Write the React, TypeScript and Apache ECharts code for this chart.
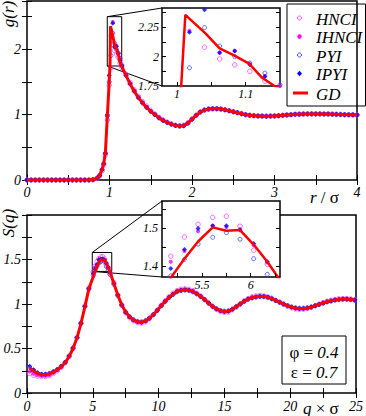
import React, { useEffect, useRef } from "react";
import * as echarts from "echarts";

// ---------- g(r) panel data ----------
const rTop = [0, 0.05, 0.1, 0.15, 0.2, 0.25, 0.3, 0.35, 0.4, 0.45, 0.5, 0.55, 0.6, 0.65, 0.7, 0.75, 0.8, 0.85,
  0.88, 0.91, 0.93, 0.95, 0.974, 0.996,
  1.018, 1.04, 1.062, 1.084, 1.106, 1.128, 1.15,
  1.2, 1.25, 1.3, 1.35, 1.4, 1.45, 1.5, 1.55, 1.6, 1.65,
  1.7, 1.75, 1.8, 1.85, 1.9, 1.95, 2.0, 2.05, 2.1, 2.15,
  2.2, 2.25, 2.3, 2.35, 2.4, 2.45, 2.5, 2.55, 2.6, 2.65,
  2.7, 2.75, 2.8, 2.85, 2.9, 2.95, 3.0, 3.05, 3.1, 3.15,
  3.2, 3.25, 3.3, 3.35, 3.4, 3.45, 3.5, 3.55, 3.6, 3.65,
  3.7, 3.75, 3.8, 3.85, 3.9, 3.95, 4.0];

const gHNCI = [0, 0, 0, 0, 0, 0, 0, 0, 0, 0, 0, 0, 0, 0, 0, 0, 0.004, 0.025,
  0.06, 0.14, 0.23, 0.38, 0.92, 1.45,
  1.72, 2.08, 1.98, 1.93, 1.875, 1.79, 1.72,
  1.62, 1.49, 1.38, 1.28, 1.2, 1.13, 1.065, 1.01, 0.96, 0.92,
  0.885, 0.858, 0.838, 0.83, 0.838, 0.875, 0.935, 0.99, 1.04, 1.07,
  1.085, 1.09, 1.09, 1.085, 1.075, 1.06, 1.045, 1.03, 1.015, 1.0,
  0.99, 0.985, 0.98, 0.978, 0.977, 0.978, 0.98, 0.985, 0.99, 0.995,
  1.0, 1.005, 1.008, 1.01, 1.012, 1.012, 1.012, 1.012, 1.01, 1.01,
  1.008, 1.005, 1.003, 1.0, 0.998, 0.997, 0.996];

const gIHNCI = [0, 0, 0, 0, 0, 0, 0, 0, 0, 0, 0, 0, 0, 0, 0, 0, 0.005, 0.03,
  0.07, 0.16, 0.25, 0.41, 1.0, 1.6,
  2.22, 2.42, 2.035, 2.05, 1.935, 1.835, 1.75,
  1.61, 1.48, 1.37, 1.27, 1.19, 1.12, 1.055, 1.005, 0.955, 0.915,
  0.882, 0.856, 0.836, 0.827, 0.833, 0.872, 0.932, 0.99, 1.04, 1.07,
  1.085, 1.09, 1.09, 1.085, 1.075, 1.06, 1.045, 1.03, 1.015, 1.0,
  0.99, 0.985, 0.98, 0.978, 0.977, 0.978, 0.98, 0.985, 0.99, 0.995,
  1.0, 1.005, 1.008, 1.01, 1.012, 1.012, 1.012, 1.012, 1.01, 1.01,
  1.008, 1.005, 1.003, 1.0, 0.998, 0.997, 0.996];

const gPYI = [0, 0, 0, 0, 0, 0, 0, 0, 0, 0, 0, 0, 0, 0, 0, 0, 0.005, 0.03,
  0.07, 0.16, 0.25, 0.41, 0.98, 1.5,
  1.905, 2.247, 2.09, 2.0, 1.945, 1.86, 1.76,
  1.6, 1.47, 1.36, 1.26, 1.18, 1.11, 1.05, 1.0, 0.95, 0.91,
  0.88, 0.855, 0.835, 0.825, 0.83, 0.87, 0.93, 0.99, 1.04, 1.07,
  1.085, 1.09, 1.09, 1.085, 1.075, 1.06, 1.045, 1.03, 1.015, 1.0,
  0.99, 0.985, 0.98, 0.978, 0.977, 0.978, 0.98, 0.985, 0.99, 0.995,
  1.0, 1.005, 1.008, 1.01, 1.012, 1.012, 1.012, 1.012, 1.01, 1.01,
  1.008, 1.005, 1.003, 1.0, 0.998, 0.997, 0.996];

const gIPYI = [0, 0, 0, 0, 0, 0, 0, 0, 0, 0, 0, 0, 0, 0, 0, 0, 0.005, 0.03,
  0.07, 0.16, 0.25, 0.41, 1.0, 1.6,
  2.207, 2.4, 2.034, 2.048, 1.934, 1.83, 1.745,
  1.6, 1.47, 1.36, 1.26, 1.18, 1.11, 1.05, 1.0, 0.95, 0.91,
  0.88, 0.855, 0.835, 0.825, 0.83, 0.87, 0.93, 0.99, 1.04, 1.07,
  1.085, 1.09, 1.09, 1.085, 1.075, 1.06, 1.045, 1.03, 1.015, 1.0,
  0.99, 0.985, 0.98, 0.978, 0.977, 0.978, 0.98, 0.985, 0.99, 0.995,
  1.0, 1.005, 1.008, 1.01, 1.012, 1.012, 1.012, 1.012, 1.01, 1.01,
  1.008, 1.005, 1.003, 1.0, 0.998, 0.997, 0.996];

const rGD = [0, 0.5, 0.75, 0.8, 0.85, 0.88, 0.91, 0.93, 0.95, 0.975, 0.99, 1.006, 1.012,
  1.041, 1.062, 1.083, 1.105, 1.124, 1.142, 1.17,
  1.2, 1.25, 1.3, 1.35, 1.4, 1.45, 1.5, 1.55, 1.6, 1.65,
  1.7, 1.75, 1.8, 1.85, 1.9, 1.95, 2.0, 2.05, 2.1, 2.15,
  2.2, 2.25, 2.3, 2.35, 2.4, 2.45, 2.5, 2.55, 2.6, 2.65,
  2.7, 2.75, 2.8, 2.85, 2.9, 2.95, 3.0, 3.05, 3.1, 3.15,
  3.2, 3.25, 3.3, 3.35, 3.4, 3.45, 3.5, 3.55, 3.6, 3.65,
  3.7, 3.75, 3.8, 3.85, 3.9, 3.95, 4.0];

const gGD = [0, 0, 0.002, 0.006, 0.03, 0.07, 0.16, 0.25, 0.42, 1.0, 1.35, 1.75, 2.355,
  2.2, 2.07, 2.01, 1.94, 1.82, 1.75, 1.68,
  1.6, 1.47, 1.36, 1.26, 1.18, 1.11, 1.05, 1.0, 0.95, 0.91,
  0.88, 0.855, 0.835, 0.825, 0.83, 0.87, 0.93, 0.99, 1.04, 1.07,
  1.085, 1.09, 1.09, 1.085, 1.075, 1.06, 1.045, 1.03, 1.015, 1.0,
  0.99, 0.985, 0.98, 0.978, 0.977, 0.978, 0.98, 0.985, 0.99, 0.995,
  1.0, 1.005, 1.008, 1.01, 1.012, 1.012, 1.012, 1.012, 1.01, 1.01,
  1.008, 1.005, 1.003, 1.0, 0.998, 0.997, 0.996];

// ---------- S(q) panel data ----------
const qGrid = [0.2, 0.5, 0.8, 1.1, 1.4, 1.7, 2.0, 2.3, 2.6, 2.9, 3.2, 3.5, 3.8, 4.1, 4.4, 4.7,
  5.04, 5.18, 5.32, 5.46, 5.61, 5.75, 5.89, 6.03, 6.17, 6.31,
  6.6, 6.9, 7.2, 7.5, 7.8, 8.1, 8.4, 8.7, 9.0, 9.3,
  9.6, 9.9, 10.2, 10.5, 10.8, 11.1, 11.4, 11.7, 12.0, 12.3,
  12.6, 12.9, 13.2, 13.5, 13.8, 14.1, 14.4, 14.7, 15.0, 15.3,
  15.6, 15.9, 16.2, 16.5, 16.8, 17.1, 17.4, 17.7, 18.0, 18.3,
  18.6, 18.9, 19.2, 19.5, 19.8, 20.1, 20.4, 20.7, 21.0, 21.3,
  21.6, 21.9, 22.2, 22.5, 22.8, 23.1, 23.4, 23.7, 24.0, 24.3,
  24.6, 24.9];

const sHNCI = [0.22, 0.2, 0.19, 0.185, 0.185, 0.195, 0.22, 0.25, 0.29, 0.34, 0.41, 0.5, 0.62, 0.78, 0.98, 1.18,
  1.36, 1.4265, 1.477, 1.51, 1.528, 1.531, 1.505, 1.442, 1.405, 1.34,
  1.24, 1.1, 0.985, 0.9, 0.845, 0.81, 0.79, 0.785, 0.8, 0.835,
  0.88, 0.93, 0.985, 1.035, 1.08, 1.12, 1.15, 1.165, 1.17, 1.165,
  1.15, 1.12, 1.09, 1.05, 1.01, 0.97, 0.94, 0.915, 0.905, 0.91,
  0.935, 0.965, 1.0, 1.035, 1.06, 1.08, 1.09, 1.095, 1.09, 1.08,
  1.065, 1.04, 1.02, 0.995, 0.975, 0.958, 0.945, 0.94, 0.942, 0.95,
  0.962, 0.98, 0.998, 1.015, 1.03, 1.042, 1.05, 1.058, 1.06, 1.06,
  1.055, 1.048];

const sIHNCI = [0.24, 0.215, 0.2, 0.19, 0.19, 0.2, 0.225, 0.255, 0.29, 0.34, 0.41, 0.5, 0.62, 0.78, 0.975, 1.175,
  1.35, 1.412, 1.44, 1.492, 1.506, 1.503, 1.497, 1.455, 1.41, 1.355,
  1.235, 1.1, 0.99, 0.905, 0.85, 0.815, 0.795, 0.79, 0.805, 0.838,
  0.88, 0.93, 0.982, 1.032, 1.078, 1.115, 1.145, 1.16, 1.165, 1.16,
  1.145, 1.118, 1.088, 1.05, 1.01, 0.972, 0.942, 0.92, 0.91, 0.915,
  0.938, 0.968, 1.0, 1.032, 1.058, 1.075, 1.085, 1.09, 1.088, 1.078,
  1.062, 1.04, 1.02, 0.998, 0.978, 0.962, 0.95, 0.945, 0.946, 0.952,
  0.964, 0.98, 0.997, 1.012, 1.028, 1.038, 1.048, 1.054, 1.058, 1.058,
  1.052, 1.046];

const sPYI = [0.29, 0.255, 0.225, 0.21, 0.21, 0.22, 0.24, 0.265, 0.3, 0.345, 0.415, 0.505, 0.625, 0.785, 0.97, 1.165,
  1.32, 1.375, 1.418, 1.458, 1.476, 1.488, 1.471, 1.42, 1.379, 1.33,
  1.22, 1.095, 0.99, 0.912, 0.858, 0.824, 0.805, 0.8, 0.814, 0.843,
  0.882, 0.93, 0.98, 1.028, 1.072, 1.106, 1.135, 1.15, 1.155, 1.15,
  1.136, 1.112, 1.082, 1.048, 1.01, 0.977, 0.948, 0.928, 0.92, 0.924,
  0.943, 0.972, 1.0, 1.028, 1.052, 1.067, 1.077, 1.082, 1.082, 1.072,
  1.058, 1.04, 1.02, 1.0, 0.982, 0.967, 0.957, 0.953, 0.953, 0.958,
  0.967, 0.981, 0.995, 1.009, 1.023, 1.033, 1.043, 1.048, 1.052, 1.052,
  1.048, 1.043];

const sIPYI = [0.3, 0.26, 0.228, 0.212, 0.21, 0.22, 0.24, 0.265, 0.3, 0.345, 0.415, 0.505, 0.625, 0.785, 0.975, 1.175,
  1.34, 1.394, 1.444, 1.499, 1.506, 1.506, 1.495, 1.46, 1.412, 1.355,
  1.23, 1.1, 0.99, 0.908, 0.853, 0.82, 0.8, 0.795, 0.81, 0.84,
  0.88, 0.93, 0.98, 1.03, 1.075, 1.11, 1.14, 1.155, 1.16, 1.155,
  1.14, 1.115, 1.085, 1.05, 1.01, 0.975, 0.945, 0.925, 0.915, 0.92,
  0.94, 0.97, 1.0, 1.03, 1.055, 1.07, 1.08, 1.085, 1.085, 1.075,
  1.06, 1.04, 1.02, 1.0, 0.98, 0.965, 0.955, 0.95, 0.95, 0.955,
  0.965, 0.98, 0.995, 1.01, 1.025, 1.035, 1.045, 1.05, 1.055, 1.055,
  1.05, 1.045];

const sGD = [0.28, 0.25, 0.22, 0.205, 0.205, 0.215, 0.235, 0.26, 0.295, 0.34, 0.41, 0.5, 0.62, 0.78, 0.97, 1.17,
  1.31, 1.37, 1.42, 1.465, 1.502, 1.493, 1.495, 1.457, 1.412, 1.36,
  1.23, 1.1, 0.99, 0.91, 0.855, 0.82, 0.8, 0.795, 0.81, 0.84,
  0.88, 0.93, 0.98, 1.03, 1.075, 1.11, 1.14, 1.155, 1.16, 1.155,
  1.14, 1.115, 1.085, 1.05, 1.01, 0.975, 0.945, 0.925, 0.915, 0.92,
  0.94, 0.97, 1.0, 1.03, 1.055, 1.07, 1.08, 1.085, 1.085, 1.075,
  1.06, 1.04, 1.02, 1.0, 0.98, 0.965, 0.955, 0.95, 0.95, 0.955,
  0.965, 0.98, 0.995, 1.01, 1.025, 1.035, 1.045, 1.05, 1.055, 1.055,
  1.05, 1.045];

// ---------- axis ranges / ticks ----------
const topInsetX = [0.978, 1.15];
const topInsetY = [1.75, 2.414];
const topInsetXTicks = [1, 1.05, 1.1];
const topInsetXLabels = [1, 1.1];
const topInsetYTicks = [1.875, 2, 2.125, 2.25, 2.375];
const topInsetYLabels = [1.75, 2, 2.25];
const botInsetX = [5.09, 6.3];
const botInsetY = [1.372, 1.571];
const botInsetXTicks = [5.25, 5.5, 5.75, 6, 6.25];
const botInsetXLabels = [5.5, 6];
const botInsetYTicks = [1.4, 1.45, 1.5, 1.55];
const botInsetYLabels = [1.4, 1.5];
// zoom boxes drawn in main panels (data coords)
const topBox = [[0.973, 1.745], [1.148, 2.5]];
const botBox = [[4.96, 1.366], [6.44, 1.579]];

const FONT = "Liberation Serif";
const C_HNCI = "#ff44ff";
const C_IHNCI = "#ff00ff";
const C_PYI = "#3344ff";
const C_IPYI = "#0000ff";
const C_GD = "#ff0000";

const pairs = (xs: number[], ys: number[]) => xs.map((x, i) => [x, ys[i]]);

const tickLabel = (size: number, margin: number) => ({
  color: "#000",
  fontStyle: "italic",
  fontFamily: FONT,
  fontSize: size,
  margin,
});

function valAxis(extra: any) {
  return {
    type: "value",
    axisLine: { show: false },
    splitLine: { show: false },
    axisTick: { inside: true, length: 5, lineStyle: { color: "#000", width: 1 } },
    ...extra,
  };
}

function scatterSeries(name: string, xi: number, data: number[][], z: number) {
  const base: any = {
    type: "scatter",
    name,
    xAxisIndex: xi,
    yAxisIndex: xi,
    data,
    silent: true,
    z,
    clip: true,
  };
  if (name === "HNCI") {
    base.symbol = "circle";
    base.symbolSize = 4.5;
    base.itemStyle = { color: "rgba(255,255,255,0)", borderColor: C_HNCI, borderWidth: 1 };
  } else if (name === "IHNCI") {
    base.symbol = "circle";
    base.symbolSize = 4;
    base.itemStyle = { color: C_IHNCI };
  } else if (name === "PYI") {
    base.symbol = "circle";
    base.symbolSize = 4;
    base.itemStyle = { color: "rgba(255,255,255,0)", borderColor: C_PYI, borderWidth: 1 };
  } else {
    base.symbol = "diamond";
    base.symbolSize = 5;
    base.itemStyle = { color: C_IPYI };
  }
  return base;
}

function gdSeries(xi: number, data: number[][], z: number, width: number, box?: number[][]) {
  const s: any = {
    type: "line",
    name: "GD",
    xAxisIndex: xi,
    yAxisIndex: xi,
    data,
    showSymbol: false,
    symbol: "none",
    silent: true,
    clip: true,
    z,
    lineStyle: { color: C_GD, width },
  };
  if (box) {
    s.markArea = {
      silent: true,
      label: { show: false },
      itemStyle: { color: "rgba(0,0,0,0)", borderColor: "#000", borderWidth: 1 },
      data: [[{ coord: box[0] }, { coord: box[1] }]],
    };
  }
  return s;
}

export default function App() {
  const ref = useRef<HTMLDivElement>(null);

  useEffect(() => {
    document.body.style.margin = "0";
    const chart = echarts.init(ref.current!, null, { renderer: "svg" });

    const topPts = [
      ["HNCI", gHNCI], ["IHNCI", gIHNCI], ["PYI", gPYI], ["IPYI", gIPYI],
    ] as [string, number[]][];
    const botPts = [
      ["HNCI", sHNCI], ["IHNCI", sIHNCI], ["PYI", sPYI], ["IPYI", sIPYI],
    ] as [string, number[]][];

    const series: any[] = [];
    topPts.forEach(([n, v]) => series.push(scatterSeries(n, 0, pairs(rTop, v), 2)));
    series.push(gdSeries(0, pairs(rGD, gGD), 3, 3, topBox));
    topPts.forEach(([n, v]) => series.push(scatterSeries(n, 2, pairs(rTop, v), 6)));
    series.push(gdSeries(2, pairs(rGD, gGD), 7, 2.5));
    botPts.forEach(([n, v]) => series.push(scatterSeries(n, 3, pairs(qGrid, v), 2)));
    series.push(gdSeries(3, pairs(qGrid, sGD), 3, 3, botBox));
    botPts.forEach(([n, v]) => series.push(scatterSeries(n, 5, pairs(qGrid, v), 6)));
    series.push(gdSeries(5, pairs(qGrid, sGD), 7, 2.5));

    const mainGrid = { show: true, borderColor: "#000", borderWidth: 1.5, backgroundColor: "rgba(0,0,0,0)", z: 2 };
    const insetGrid = { show: true, borderColor: "#000", borderWidth: 1.5, backgroundColor: "#fff", z: 4 };

    const option: any = {
      animation: false,
      textStyle: { fontFamily: FONT, fontStyle: "italic" },
      grid: [
        { ...mainGrid, left: 27, top: 1, width: 330, height: 179 },
        { ...insetGrid, left: 162, top: 8, width: 118, height: 78 },
        { ...mainGrid, left: 27, top: 215, width: 330, height: 178 },
        { ...insetGrid, left: 162, top: 201, width: 118, height: 76 },
      ],
      xAxis: [
        valAxis({ gridIndex: 0, min: 0, max: 4, interval: 0.5, position: "bottom",
          axisLabel: { ...tickLabel(14, 5), formatter: (v: number) => (Number.isInteger(v) ? String(v) : "") } }),
        valAxis({ gridIndex: 0, min: 0, max: 4, interval: 0.5, position: "top", axisLabel: { show: false } }),
        valAxis({ gridIndex: 1, min: topInsetX[0], max: topInsetX[1], position: "bottom", z: 8,
          axisTick: { inside: true, length: 4, lineStyle: { color: "#000" }, customValues: topInsetXTicks },
          axisLabel: { ...tickLabel(12, 2), customValues: topInsetXLabels } }),
        valAxis({ gridIndex: 2, min: 0, max: 25, interval: 2.5, position: "bottom",
          axisLabel: { ...tickLabel(14, 6), formatter: (v: number) => (v % 5 === 0 ? String(v) : "") } }),
        valAxis({ gridIndex: 2, min: 0, max: 25, interval: 2.5, position: "top", axisLabel: { show: false } }),
        valAxis({ gridIndex: 3, min: botInsetX[0], max: botInsetX[1], position: "bottom", z: 8,
          axisTick: { inside: true, length: 4, lineStyle: { color: "#000" }, customValues: botInsetXTicks },
          axisLabel: { ...tickLabel(12, 2), customValues: botInsetXLabels } }),
      ],
      yAxis: [
        valAxis({ gridIndex: 0, min: 0, max: 2.74, interval: 0.5, position: "left",
          axisLabel: { ...tickLabel(14, 6), formatter: (v: number) => (Number.isInteger(v) ? String(v) : "") } }),
        valAxis({ gridIndex: 0, min: 0, max: 2.74, interval: 0.5, position: "right", axisLabel: { show: false } }),
        valAxis({ gridIndex: 1, min: topInsetY[0], max: topInsetY[1], position: "left", z: 8,
          axisTick: { inside: true, length: 4, lineStyle: { color: "#000" }, customValues: topInsetYTicks },
          axisLabel: { ...tickLabel(12, 3), customValues: topInsetYLabels } }),
        valAxis({ gridIndex: 2, min: 0, max: 2, interval: 0.25, position: "left",
          axisLabel: { ...tickLabel(14, 6), formatter: (v: number) => ((v * 2) % 1 === 0 && v !== 2 ? String(v) : "") } }),
        valAxis({ gridIndex: 2, min: 0, max: 2, interval: 0.25, position: "right", axisLabel: { show: false } }),
        valAxis({ gridIndex: 3, min: botInsetY[0], max: botInsetY[1], position: "left", z: 8,
          axisTick: { inside: true, length: 4, lineStyle: { color: "#000" }, customValues: botInsetYTicks },
          axisLabel: { ...tickLabel(12, 4), customValues: botInsetYLabels } }),
        valAxis({ gridIndex: 1, min: topInsetY[0], max: topInsetY[1], position: "right", z: 8,
          axisTick: { inside: true, length: 4, lineStyle: { color: "#000" }, customValues: topInsetYTicks },
          axisLabel: { show: false } }),
        valAxis({ gridIndex: 3, min: botInsetY[0], max: botInsetY[1], position: "right", z: 8,
          axisTick: { inside: true, length: 4, lineStyle: { color: "#000" }, customValues: botInsetYTicks },
          axisLabel: { show: false } }),
      ],
      series,
    };
    chart.setOption(option);

    // connector lines from zoom boxes to insets
    const px = (xi: number, pt: number[]) => chart.convertToPixel({ xAxisIndex: xi, yAxisIndex: xi }, pt) as number[];
    const conn = [
      [px(0, [topBox[0][0], topBox[1][1]]), px(2, [topInsetX[0], topInsetY[1]])],
      [px(0, [topBox[0][0], topBox[0][1]]), px(2, [topInsetX[0], topInsetY[0]])],
      [px(3, [botBox[0][0], botBox[1][1]]), px(5, [botInsetX[0], botInsetY[1]])],
      [px(3, [botBox[0][0], botBox[0][1]]), px(5, [botInsetX[0], botInsetY[0]])],
    ];

    const txt = (size: number, italic: boolean) => ({
      fontFamily: FONT, fontSize: size, fontStyle: italic ? "italic" : "normal", fill: "#000",
    });

    const legendItems = [
      { name: "HNCI", kind: "open", color: C_HNCI, y: 14 },
      { name: "IHNCI", kind: "fill", color: C_IHNCI, y: 32.5 },
      { name: "PYI", kind: "open", color: C_PYI, y: 51 },
      { name: "IPYI", kind: "diamond", color: C_IPYI, y: 69.5 },
      { name: "GD", kind: "line", color: C_GD, y: 89 },
    ];
    const legendChildren: any[] = [
      { type: "rect", shape: { x: 0, y: 0, width: 78.5, height: 102 },
        style: { fill: "#fff", stroke: "#000", lineWidth: 1 } },
    ];
    legendItems.forEach((it) => {
      if (it.kind === "open") {
        legendChildren.push({ type: "circle", shape: { cx: 12.5, cy: it.y, r: 2 },
          style: { fill: "rgba(0,0,0,0)", stroke: it.color, lineWidth: 1 } });
      } else if (it.kind === "fill") {
        legendChildren.push({ type: "circle", shape: { cx: 12.5, cy: it.y, r: 2.2 }, style: { fill: it.color } });
      } else if (it.kind === "diamond") {
        legendChildren.push({ type: "polygon",
          shape: { points: [[12.5, it.y - 2.8], [15, it.y], [12.5, it.y + 2.8], [10, it.y]] },
          style: { fill: it.color } });
      } else {
        legendChildren.push({ type: "line", shape: { x1: 6, y1: it.y, x2: 21, y2: it.y },
          style: { stroke: it.color, lineWidth: 3 } });
      }
      legendChildren.push({ type: "text", x: 29, y: it.y + 1,
        style: { ...txt(17, true), text: it.name, align: "left", verticalAlign: "middle" } });
    });

    const graphics: any[] = [
      ...conn.map(([a, b]) => ({ type: "line", z: 1, silent: true,
        shape: { x1: a[0], y1: a[1], x2: b[0], y2: b[1] }, style: { stroke: "#000", lineWidth: 1 } })),
      { type: "group", x: 287, y: 4, z: 100, children: legendChildren },
      { type: "text", x: 8, y: 14, rotation: Math.PI / 2, z: 100,
        style: { ...txt(17, true), text: "g(r)", align: "center", verticalAlign: "middle" } },
      { type: "text", x: 8, y: 223, rotation: Math.PI / 2, z: 100,
        style: { ...txt(17, true), text: "S(q)", align: "center", verticalAlign: "middle" } },
      { type: "text", x: 310, y: 197, z: 100,
        style: { text: "{i|r}{n| / σ}", align: "left", verticalAlign: "middle", ...txt(17, true),
          rich: { i: txt(17, true), n: txt(17, false) } } },
      { type: "text", x: 303, y: 408, z: 100,
        style: { text: "{i|q}{n| × σ}", align: "left", verticalAlign: "middle", ...txt(17, true),
          rich: { i: txt(17, true), n: txt(17, false) } } },
      { type: "rect", z: 100, shape: { x: 282, y: 336, width: 64, height: 48 },
        style: { fill: "#fff", stroke: "#000", lineWidth: 1 } },
      { type: "text", x: 314, y: 352, z: 101,
        style: { text: "{n|φ = }{i|0.4}", align: "center", verticalAlign: "middle", ...txt(17, false),
          rich: { i: txt(17, true), n: txt(17, false) } } },
      { type: "text", x: 314, y: 372, z: 101,
        style: { text: "{n|ε = }{i|0.7}", align: "center", verticalAlign: "middle", ...txt(17, false),
          rich: { i: txt(17, true), n: txt(17, false) } } },
    ];
    chart.setOption({ graphic: { elements: graphics } });

    return () => chart.dispose();
  }, []);

  return <div ref={ref} style={{ width: 366, height: 416 }} />;
}
